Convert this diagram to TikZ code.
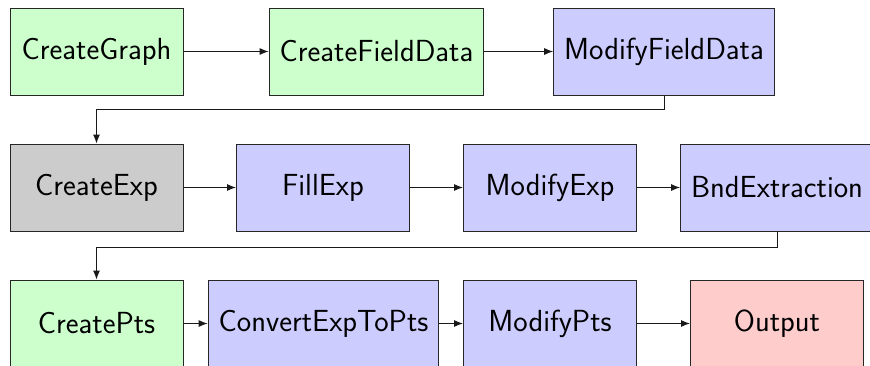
\documentclass[tikz,border=0pt]{standalone}
\usetikzlibrary{arrows.meta}
\definecolor{gfill}{HTML}{CCFFCC}
\definecolor{bfill}{HTML}{CCCCFF}
\definecolor{kfill}{HTML}{CCCCCC}
\definecolor{rfill}{HTML}{FFCCCC}
\tikzset{
  box/.style={draw=black!85, line width=1pt, minimum width=173pt, minimum height=87pt,
    inner sep=10.5pt, font=\sffamily\fontsize{30.5}{36}\selectfont, anchor=center},
  gbox/.style={box, fill=gfill},
  bbox/.style={box, fill=bfill},
  kbox/.style={box, fill=kfill},
  rbox/.style={box, fill=rfill},
  conn/.style={draw=black!90, line width=1pt, -{Latex[length=9pt,width=7pt]}},
}
\begin{document}
\begin{tikzpicture}[x=1pt,y=-1pt]
\useasboundingbox (0,0) rectangle (870,365);
\clip (0,0) rectangle (870,365);
\node[gbox] (cg) at (96.5,51.5) {CreateGraph};
\node[gbox] (cfd) at (376.5,51.5) {CreateFieldData};
\node[bbox] (mfd) at (664,51.5) {ModifyFieldData};
\node[kbox] (ce) at (96.5,187.5) {CreateExp};
\node[bbox] (fe) at (323,187.5) {FillExp};
\node[bbox] (me) at (550,187.5) {ModifyExp};
\node[bbox] (be) at (777,187.5) {BndExtraction};
\node[gbox] (cp) at (96.5,323.5) {CreatePts};
\node[bbox] (cetp) at (323.5,323.5) {ConvertExpToPts};
\node[bbox] (mp) at (550,323.5) {ModifyPts};
\node[rbox] (out) at (777,323.5) {Output};
\draw[conn] (cg) -- (cfd);
\draw[conn] (cfd) -- (mfd);
\draw[conn] (mfd.south) |- (96.5,109) -- (ce.north);
\draw[conn] (ce) -- (fe);
\draw[conn] (fe) -- (me);
\draw[conn] (me) -- (be);
\draw[conn] (be.south) |- (96.5,247) -- (cp.north);
\draw[conn] (cp) -- (cetp);
\draw[conn] (cetp) -- (mp);
\draw[conn] (mp) -- (out);
\end{tikzpicture}
\end{document}
